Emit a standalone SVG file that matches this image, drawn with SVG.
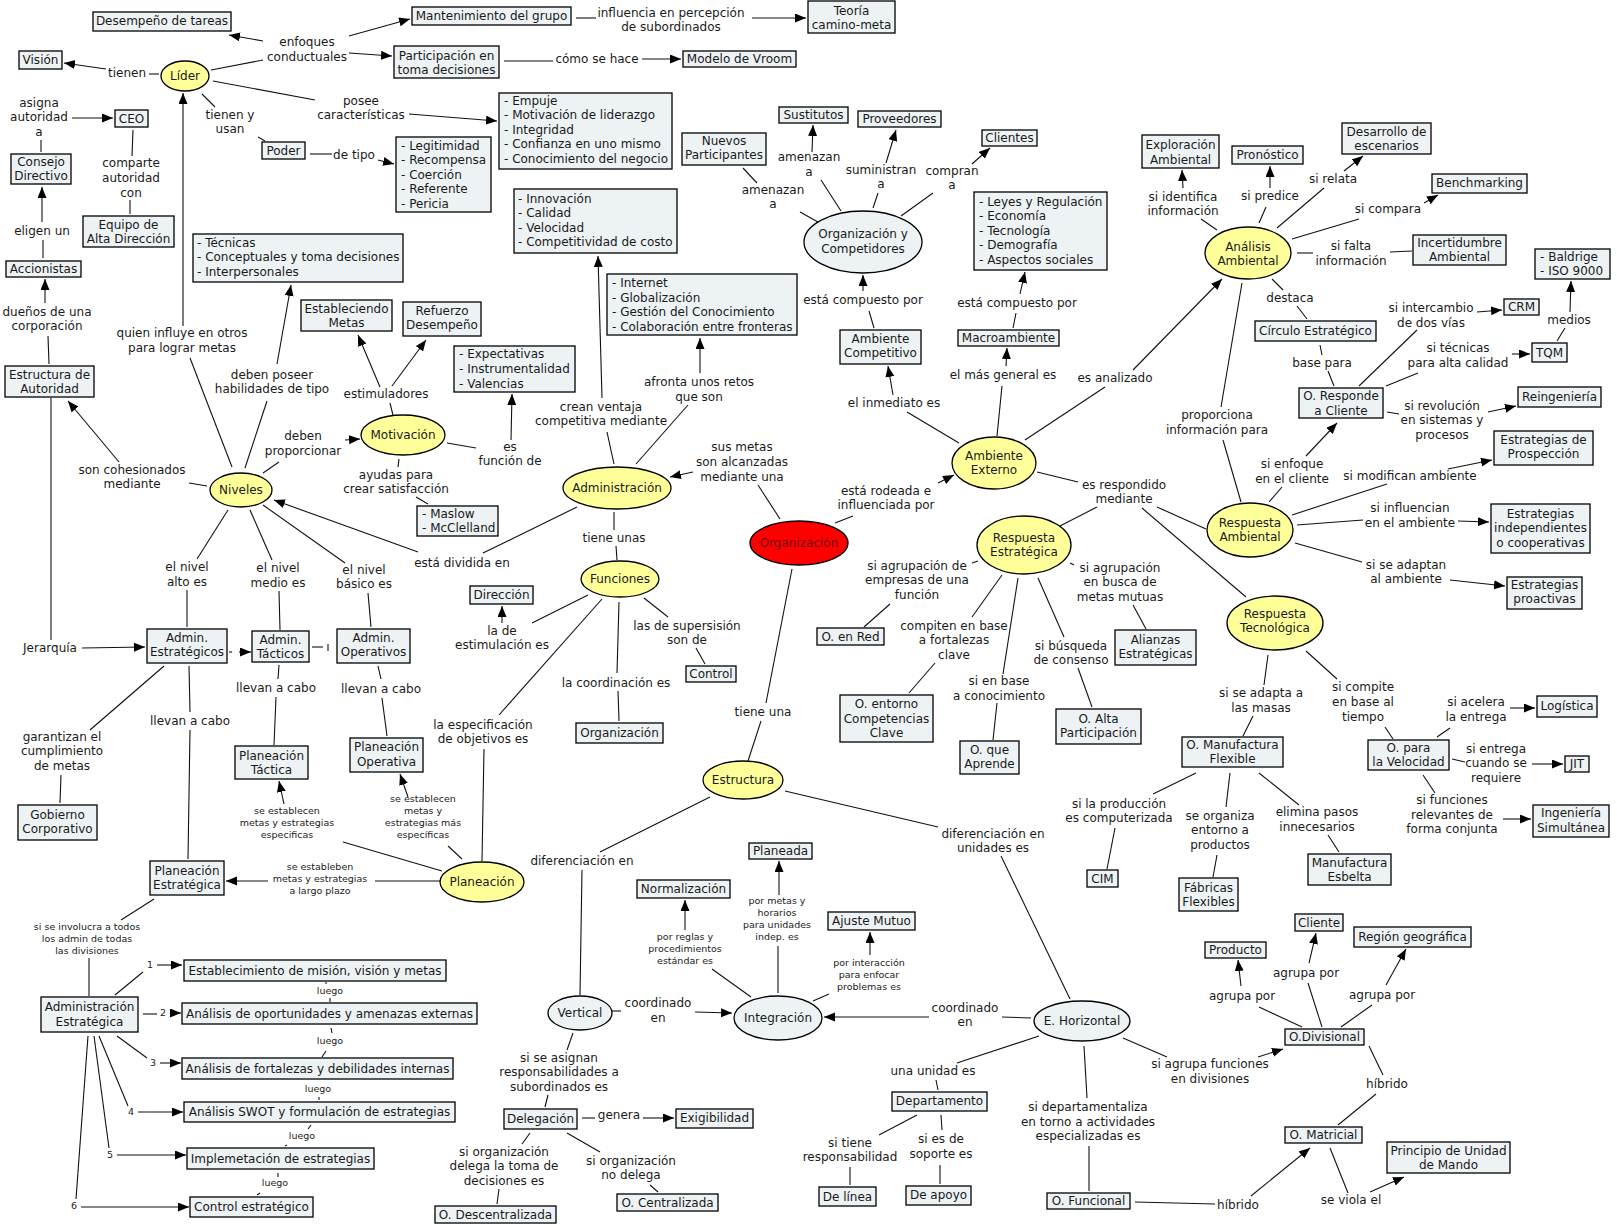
<svg xmlns="http://www.w3.org/2000/svg" width="1617" height="1230" viewBox="0 0 1617 1230">
<style>
.b{fill:#edf2f5;stroke:#000;stroke-width:1.3}
.y{fill:#ffff99;stroke:#000;stroke-width:1.3}
.r{fill:#ff0000;stroke:#000;stroke-width:1.3}
text{font-family:"DejaVu Sans",Verdana,sans-serif;font-size:12px;fill:#1a1a1a;text-anchor:middle}
.l{text-anchor:start}
.s{font-size:9.5px}
#connectors line,#connectors path{stroke:#111;stroke-width:1.1;fill:none}
#connectors .a{marker-end:url(#ah)}
</style>
<defs>
<marker id="ah" markerUnits="userSpaceOnUse" markerWidth="12" markerHeight="10" refX="11" refY="4.5" orient="auto"><path d="M0,0 L11,4.5 L0,9 z" fill="#000"/></marker>
</defs>
<rect width="1617" height="1230" fill="#fff"/>
<g id="connectors">
<line x1="211" y1="70" x2="263" y2="60"/>
<line class="a" x1="263" y1="41" x2="229" y2="35"/>
<line class="a" x1="349" y1="36" x2="410" y2="19"/>
<line class="a" x1="349" y1="53" x2="392" y2="56"/>
<line x1="576" y1="18" x2="596" y2="18"/>
<line class="a" x1="752" y1="18" x2="806" y2="18"/>
<line x1="504" y1="61" x2="553" y2="61"/>
<line class="a" x1="642" y1="59" x2="681" y2="59"/>
<line x1="149" y1="74" x2="159" y2="74"/>
<line class="a" x1="106" y1="69" x2="64" y2="63"/>
<line x1="213" y1="81" x2="315" y2="100"/>
<line class="a" x1="409" y1="114" x2="497" y2="121"/>
<line x1="202" y1="94" x2="215" y2="107"/>
<line x1="258" y1="137" x2="265" y2="141"/>
<line x1="310" y1="154" x2="332" y2="154"/>
<line class="a" x1="378" y1="160" x2="394" y2="164"/>
<line class="a" x1="72" y1="118" x2="113" y2="118"/>
<line x1="41" y1="152" x2="41" y2="140"/>
<line x1="130" y1="214" x2="130" y2="200"/>
<line x1="132" y1="156" x2="133" y2="130"/>
<line x1="43" y1="258" x2="43" y2="240"/>
<line class="a" x1="42" y1="222" x2="42" y2="187"/>
<line x1="49" y1="364" x2="48" y2="336"/>
<line class="a" x1="45" y1="303" x2="45" y2="279"/>
<line x1="232" y1="467" x2="190" y2="358"/>
<line class="a" x1="183" y1="326" x2="183" y2="93"/>
<line x1="245" y1="468" x2="267" y2="401"/>
<line class="a" x1="277" y1="364" x2="291" y2="285"/>
<line x1="393" y1="415" x2="390" y2="403"/>
<line class="a" x1="380" y1="387" x2="358" y2="335"/>
<line class="a" x1="392" y1="386" x2="426" y2="340"/>
<line x1="263" y1="473" x2="279" y2="462"/>
<line class="a" x1="345" y1="440" x2="360" y2="439"/>
<line x1="207" y1="486" x2="189" y2="483"/>
<line class="a" x1="119" y1="462" x2="68" y2="401"/>
<line x1="447" y1="443" x2="476" y2="448"/>
<line class="a" x1="511" y1="440" x2="512" y2="394"/>
<line x1="399" y1="459" x2="398" y2="467"/>
<line x1="416" y1="497" x2="428" y2="504"/>
<line x1="577" y1="507" x2="483" y2="553"/>
<line class="a" x1="418" y1="552" x2="274" y2="500"/>
<line x1="614" y1="464" x2="607" y2="432"/>
<line class="a" x1="602" y1="398" x2="598" y2="256"/>
<line x1="636" y1="464" x2="688" y2="405"/>
<line class="a" x1="700" y1="373" x2="700" y2="338"/>
<line x1="780" y1="519" x2="758" y2="485"/>
<line class="a" x1="693" y1="472" x2="670" y2="477"/>
<line x1="614" y1="512" x2="614" y2="530"/>
<line x1="616" y1="546" x2="617" y2="560"/>
<line x1="588" y1="595" x2="532" y2="623"/>
<line class="a" x1="502" y1="623" x2="502" y2="606"/>
<line x1="644" y1="598" x2="668" y2="617"/>
<line x1="696" y1="648" x2="705" y2="664"/>
<line x1="619" y1="602" x2="617" y2="673"/>
<line x1="618" y1="691" x2="619" y2="721"/>
<line x1="602" y1="599" x2="499" y2="715"/>
<line x1="484" y1="749" x2="482" y2="861"/>
<line x1="792" y1="569" x2="766" y2="703"/>
<line x1="761" y1="721" x2="748" y2="761"/>
<line x1="835" y1="523" x2="853" y2="516"/>
<line class="a" x1="938" y1="483" x2="954" y2="475"/>
<line x1="959" y1="443" x2="907" y2="412"/>
<line class="a" x1="893" y1="395" x2="888" y2="366"/>
<line x1="874" y1="328" x2="869" y2="311"/>
<line class="a" x1="863" y1="291" x2="863" y2="275"/>
<line x1="997" y1="436" x2="1002" y2="386"/>
<line class="a" x1="1006" y1="366" x2="1007" y2="348"/>
<line x1="1013" y1="328" x2="1016" y2="313"/>
<line class="a" x1="1020" y1="294" x2="1025" y2="272"/>
<line x1="1025" y1="440" x2="1105" y2="387"/>
<line class="a" x1="1133" y1="370" x2="1222" y2="279"/>
<line x1="818" y1="222" x2="800" y2="212"/>
<line x1="757" y1="183" x2="743" y2="168"/>
<line x1="841" y1="211" x2="821" y2="180"/>
<line class="a" x1="812" y1="152" x2="813" y2="125"/>
<line x1="873" y1="208" x2="878" y2="193"/>
<line class="a" x1="886" y1="163" x2="896" y2="130"/>
<line x1="901" y1="216" x2="933" y2="193"/>
<line class="a" x1="972" y1="164" x2="990" y2="148"/>
<line x1="1217" y1="230" x2="1201" y2="219"/>
<line class="a" x1="1183" y1="188" x2="1182" y2="170"/>
<line x1="1259" y1="223" x2="1266" y2="207"/>
<line class="a" x1="1270" y1="188" x2="1270" y2="166"/>
<line x1="1277" y1="228" x2="1324" y2="188"/>
<line class="a" x1="1344" y1="171" x2="1363" y2="156"/>
<line x1="1292" y1="239" x2="1359" y2="219"/>
<line class="a" x1="1424" y1="203" x2="1438" y2="195"/>
<line x1="1297" y1="253" x2="1313" y2="253"/>
<line x1="1390" y1="252" x2="1412" y2="251"/>
<line x1="1272" y1="279" x2="1283" y2="290"/>
<line x1="1297" y1="306" x2="1307" y2="319"/>
<line x1="1320" y1="345" x2="1322" y2="355"/>
<line x1="1328" y1="371" x2="1334" y2="386"/>
<line x1="1359" y1="386" x2="1417" y2="330"/>
<line class="a" x1="1477" y1="312" x2="1502" y2="310"/>
<line x1="1386" y1="386" x2="1418" y2="373"/>
<line class="a" x1="1512" y1="354" x2="1530" y2="354"/>
<line x1="1557" y1="341" x2="1565" y2="328"/>
<line class="a" x1="1570" y1="312" x2="1571" y2="281"/>
<line x1="1387" y1="412" x2="1399" y2="414"/>
<line class="a" x1="1488" y1="412" x2="1516" y2="406"/>
<line x1="1242" y1="283" x2="1221" y2="407"/>
<line x1="1223" y1="440" x2="1241" y2="502"/>
<line x1="1037" y1="472" x2="1078" y2="482"/>
<line x1="1097" y1="507" x2="1060" y2="526"/>
<line x1="1157" y1="507" x2="1206" y2="529"/>
<line x1="1142" y1="508" x2="1246" y2="597"/>
<line x1="978" y1="561" x2="972" y2="563"/>
<line x1="890" y1="604" x2="864" y2="627"/>
<line x1="1070" y1="563" x2="1074" y2="565"/>
<line x1="1133" y1="605" x2="1146" y2="629"/>
<line x1="1002" y1="575" x2="972" y2="617"/>
<line x1="935" y1="663" x2="909" y2="693"/>
<line x1="1018" y1="578" x2="1003" y2="674"/>
<line x1="997" y1="703" x2="993" y2="740"/>
<line x1="1038" y1="578" x2="1064" y2="637"/>
<line x1="1078" y1="668" x2="1092" y2="707"/>
<line x1="1269" y1="502" x2="1282" y2="487"/>
<line class="a" x1="1306" y1="456" x2="1337" y2="423"/>
<line x1="1292" y1="515" x2="1387" y2="484"/>
<line class="a" x1="1448" y1="469" x2="1492" y2="460"/>
<line x1="1297" y1="525" x2="1363" y2="520"/>
<line class="a" x1="1458" y1="521" x2="1489" y2="522"/>
<line x1="1295" y1="543" x2="1362" y2="562"/>
<line class="a" x1="1450" y1="580" x2="1505" y2="586"/>
<line x1="1268" y1="655" x2="1264" y2="685"/>
<line x1="1253" y1="716" x2="1243" y2="736"/>
<line x1="1306" y1="651" x2="1337" y2="679"/>
<line x1="1385" y1="727" x2="1393" y2="739"/>
<line x1="1437" y1="737" x2="1450" y2="728"/>
<line class="a" x1="1510" y1="708" x2="1535" y2="708"/>
<line x1="1452" y1="759" x2="1465" y2="762"/>
<line class="a" x1="1532" y1="764" x2="1563" y2="764"/>
<line x1="1423" y1="775" x2="1435" y2="793"/>
<line class="a" x1="1503" y1="819" x2="1531" y2="819"/>
<line x1="1196" y1="773" x2="1153" y2="794"/>
<line x1="1115" y1="828" x2="1107" y2="869"/>
<line x1="1230" y1="773" x2="1226" y2="807"/>
<line x1="1217" y1="855" x2="1213" y2="877"/>
<line x1="1259" y1="773" x2="1299" y2="805"/>
<line x1="1328" y1="835" x2="1339" y2="852"/>
<line x1="785" y1="791" x2="938" y2="827"/>
<line x1="1001" y1="856" x2="1070" y2="999"/>
<line x1="710" y1="797" x2="600" y2="852"/>
<line x1="582" y1="870" x2="580" y2="995"/>
<line x1="612" y1="1011" x2="621" y2="1011"/>
<line class="a" x1="695" y1="1012" x2="732" y2="1013"/>
<line x1="1031" y1="1018" x2="1002" y2="1017"/>
<line class="a" x1="929" y1="1017" x2="824" y2="1017"/>
<line x1="751" y1="997" x2="712" y2="969"/>
<line class="a" x1="685" y1="930" x2="685" y2="900"/>
<line x1="778" y1="993" x2="778" y2="946"/>
<line class="a" x1="779" y1="895" x2="779" y2="861"/>
<line x1="813" y1="1001" x2="829" y2="994"/>
<line class="a" x1="870" y1="955" x2="870" y2="932"/>
<line x1="573" y1="1033" x2="567" y2="1050"/>
<line x1="548" y1="1095" x2="545" y2="1107"/>
<line x1="582" y1="1118" x2="595" y2="1118"/>
<line class="a" x1="643" y1="1118" x2="674" y2="1118"/>
<line x1="530" y1="1133" x2="522" y2="1144"/>
<line x1="499" y1="1189" x2="497" y2="1204"/>
<line x1="567" y1="1133" x2="600" y2="1152"/>
<line x1="650" y1="1185" x2="658" y2="1192"/>
<line x1="1039" y1="1036" x2="957" y2="1063"/>
<line x1="936" y1="1080" x2="938" y2="1090"/>
<line x1="917" y1="1115" x2="879" y2="1135"/>
<line x1="850" y1="1167" x2="850" y2="1185"/>
<line x1="941" y1="1115" x2="942" y2="1130"/>
<line x1="940" y1="1165" x2="940" y2="1184"/>
<line x1="1084" y1="1046" x2="1087" y2="1098"/>
<line x1="1089" y1="1146" x2="1089" y2="1191"/>
<line x1="1135" y1="1202" x2="1215" y2="1204"/>
<line class="a" x1="1251" y1="1196" x2="1310" y2="1148"/>
<line x1="1330" y1="1148" x2="1348" y2="1193"/>
<line class="a" x1="1370" y1="1192" x2="1404" y2="1177"/>
<line x1="1123" y1="1038" x2="1167" y2="1057"/>
<line class="a" x1="1258" y1="1057" x2="1283" y2="1049"/>
<line x1="1369" y1="1046" x2="1383" y2="1075"/>
<line x1="1376" y1="1094" x2="1338" y2="1125"/>
<line x1="1302" y1="1027" x2="1259" y2="1007"/>
<line class="a" x1="1241" y1="986" x2="1238" y2="960"/>
<line x1="1322" y1="1027" x2="1308" y2="983"/>
<line class="a" x1="1309" y1="963" x2="1316" y2="933"/>
<line x1="1341" y1="1027" x2="1372" y2="1005"/>
<line class="a" x1="1386" y1="985" x2="1406" y2="949"/>
<line x1="228" y1="510" x2="197" y2="559"/>
<line x1="187" y1="590" x2="187" y2="627"/>
<line x1="250" y1="510" x2="272" y2="560"/>
<line x1="279" y1="591" x2="280" y2="630"/>
<line x1="263" y1="505" x2="345" y2="563"/>
<line x1="368" y1="593" x2="371" y2="627"/>
<line class="a" x1="82" y1="648" x2="145" y2="647"/>
<line x1="51" y1="398" x2="51" y2="640"/>
<line x1="229" y1="652" x2="232" y2="652"/>
<line class="a" x1="239" y1="652" x2="251" y2="652"/>
<line x1="312" y1="647" x2="323" y2="647"/>
<line x1="328" y1="644" x2="328" y2="651"/>
<line x1="164" y1="666" x2="90" y2="730"/>
<line x1="61" y1="775" x2="60" y2="803"/>
<line x1="189" y1="666" x2="190" y2="712"/>
<line x1="190" y1="730" x2="188" y2="859"/>
<line x1="279" y1="665" x2="278" y2="679"/>
<line x1="276" y1="697" x2="274" y2="745"/>
<line x1="378" y1="666" x2="381" y2="679"/>
<line x1="382" y1="698" x2="387" y2="736"/>
<line x1="442" y1="871" x2="343" y2="842"/>
<line class="a" x1="284" y1="804" x2="279" y2="781"/>
<line x1="462" y1="859" x2="448" y2="846"/>
<line class="a" x1="408" y1="797" x2="400" y2="774"/>
<line x1="440" y1="881" x2="375" y2="881"/>
<line class="a" x1="268" y1="881" x2="226" y2="881"/>
<line x1="154" y1="899" x2="121" y2="920"/>
<line x1="89" y1="958" x2="89" y2="996"/>
<line x1="115" y1="995" x2="143" y2="972"/>
<line class="a" x1="157" y1="965" x2="182" y2="965"/>
<line x1="143" y1="1014" x2="157" y2="1014"/>
<line class="a" x1="170" y1="1013" x2="181" y2="1013"/>
<line x1="117" y1="1036" x2="147" y2="1058"/>
<line class="a" x1="160" y1="1063" x2="181" y2="1063"/>
<line x1="99" y1="1036" x2="128" y2="1106"/>
<line class="a" x1="138" y1="1112" x2="183" y2="1112"/>
<line x1="94" y1="1036" x2="109" y2="1148"/>
<line class="a" x1="117" y1="1155" x2="186" y2="1155"/>
<line x1="88" y1="1036" x2="76" y2="1199"/>
<line class="a" x1="81" y1="1207" x2="189" y2="1207"/>
<line x1="326" y1="982" x2="326" y2="984"/>
<line x1="330" y1="998" x2="330" y2="1002"/>
<line x1="331" y1="1028" x2="332" y2="1033"/>
<line x1="322" y1="1057" x2="326" y2="1051"/>
<line x1="319" y1="1097" x2="319" y2="1100"/>
<line x1="311" y1="1125" x2="308" y2="1129"/>
<line x1="285" y1="1146" x2="287" y2="1145"/>
<line x1="278" y1="1173" x2="278" y2="1177"/>
<line x1="257" y1="1195" x2="260" y2="1193"/>
</g>
<g id="n_desempeno"><rect class="b" x="93" y="12" width="138" height="19"/><text x="162" y="25">Desempeño de tareas</text></g>
<g id="n_vision"><rect class="b" x="19" y="51" width="43" height="18"/><text x="40.5" y="64">Visión</text></g>
<g id="n_mant"><rect class="b" x="412" y="7" width="159" height="18"/><text x="491.5" y="20">Mantenimiento del grupo</text></g>
<g id="n_teoria"><rect class="b" x="808" y="1" width="87" height="32"/><text><tspan x="851.5" y="15">Teoría</tspan><tspan x="851.5" y="29">camino-meta</tspan></text></g>
<g id="n_particip"><rect class="b" x="394" y="46" width="105" height="32"/><text><tspan x="446.5" y="60">Participación en</tspan><tspan x="446.5" y="74">toma decisiones</tspan></text></g>
<g id="n_vroom"><rect class="b" x="683" y="51" width="113" height="16"/><text x="739.5" y="63">Modelo de Vroom</text></g>
<g id="n_caract"><rect class="b" x="499" y="93" width="173" height="76"/><text class="l"><tspan x="504" y="105">- Empuje</tspan><tspan x="504" y="119">- Motivación de liderazgo</tspan><tspan x="504" y="134">- Integridad</tspan><tspan x="504" y="148">- Confianza en uno mismo</tspan><tspan x="504" y="163">- Conocimiento del negocio</tspan></text></g>
<g id="n_ceo"><rect class="b" x="115" y="110" width="33" height="17"/><text x="131.5" y="123">CEO</text></g>
<g id="n_poder"><rect class="b" x="262" y="142" width="43" height="17"/><text x="283.5" y="155">Poder</text></g>
<g id="n_legit"><rect class="b" x="396" y="137" width="95" height="75"/><text class="l"><tspan x="401" y="150">- Legitimidad</tspan><tspan x="401" y="164">- Recompensa</tspan><tspan x="401" y="179">- Coerción</tspan><tspan x="401" y="193">- Referente</tspan><tspan x="401" y="208">- Pericia</tspan></text></g>
<g id="n_consejo"><rect class="b" x="11" y="154" width="60" height="30"/><text><tspan x="41" y="166">Consejo</tspan><tspan x="41" y="180">Directivo</tspan></text></g>
<g id="n_equipo"><rect class="b" x="83" y="216" width="91" height="31"/><text><tspan x="128.5" y="229">Equipo de</tspan><tspan x="128.5" y="243">Alta Dirección</tspan></text></g>
<g id="n_accion"><rect class="b" x="6" y="261" width="75" height="16"/><text x="43.5" y="273">Accionistas</text></g>
<g id="n_estructAut"><rect class="b" x="5" y="366" width="89" height="31"/><text><tspan x="49.5" y="379">Estructura de</tspan><tspan x="49.5" y="393">Autoridad</tspan></text></g>
<g id="n_tecnicas"><rect class="b" x="193" y="234" width="210" height="48"/><text class="l"><tspan x="197" y="247">- Técnicas</tspan><tspan x="197" y="261">- Conceptuales y toma decisiones</tspan><tspan x="197" y="276">- Interpersonales</tspan></text></g>
<g id="n_estabMetas"><rect class="b" x="301" y="300" width="91" height="31"/><text><tspan x="346.5" y="313">Estableciendo</tspan><tspan x="346.5" y="327">Metas</tspan></text></g>
<g id="n_refuerzo"><rect class="b" x="403" y="302" width="78" height="34"/><text><tspan x="442" y="315">Refuerzo</tspan><tspan x="442" y="329">Desempeño</tspan></text></g>
<g id="n_expect"><rect class="b" x="454" y="346" width="121" height="46"/><text class="l"><tspan x="459" y="358">- Expectativas</tspan><tspan x="459" y="373">- Instrumentalidad</tspan><tspan x="459" y="388">- Valencias</tspan></text></g>
<g id="n_innov"><rect class="b" x="514" y="189" width="163" height="64"/><text class="l"><tspan x="518" y="203">- Innovación</tspan><tspan x="518" y="217">- Calidad</tspan><tspan x="518" y="232">- Velocidad</tspan><tspan x="518" y="246">- Competitividad de costo</tspan></text></g>
<g id="n_internet"><rect class="b" x="607" y="274" width="190" height="61"/><text class="l"><tspan x="612" y="287">- Internet</tspan><tspan x="612" y="302">- Globalización</tspan><tspan x="612" y="316">- Gestión del Conocimiento</tspan><tspan x="612" y="331">- Colaboración entre fronteras</tspan></text></g>
<g id="n_nuevos"><rect class="b" x="682" y="133" width="84" height="32"/><text><tspan x="724" y="145">Nuevos</tspan><tspan x="724" y="159">Participantes</tspan></text></g>
<g id="n_sustitutos"><rect class="b" x="779" y="107" width="69" height="16"/><text x="813.5" y="119">Sustitutos</text></g>
<g id="n_proveedores"><rect class="b" x="858" y="111" width="83" height="16"/><text x="899.5" y="123">Proveedores</text></g>
<g id="n_clientes"><rect class="b" x="982" y="130" width="55" height="16"/><text x="1009.5" y="142">Clientes</text></g>
<g id="n_ambComp"><rect class="b" x="840" y="330" width="81" height="34"/><text><tspan x="880.5" y="343">Ambiente</tspan><tspan x="880.5" y="357">Competitivo</tspan></text></g>
<g id="n_leyes"><rect class="b" x="974" y="192" width="133" height="78"/><text class="l"><tspan x="979" y="206">- Leyes y Regulación</tspan><tspan x="979" y="220">- Economía</tspan><tspan x="979" y="235">- Tecnología</tspan><tspan x="979" y="249">- Demografía</tspan><tspan x="979" y="264">- Aspectos sociales</tspan></text></g>
<g id="n_macro"><rect class="b" x="958" y="330" width="101" height="16"/><text x="1008.5" y="342">Macroambiente</text></g>
<g id="n_explor"><rect class="b" x="1142" y="135" width="77" height="33"/><text><tspan x="1180.5" y="149">Exploración</tspan><tspan x="1180.5" y="164">Ambiental</tspan></text></g>
<g id="n_pronost"><rect class="b" x="1232" y="146" width="71" height="18"/><text x="1267.5" y="159">Pronóstico</text></g>
<g id="n_desarrollo"><rect class="b" x="1342" y="123" width="89" height="31"/><text><tspan x="1386.5" y="136">Desarrollo de</tspan><tspan x="1386.5" y="150">escenarios</tspan></text></g>
<g id="n_bench"><rect class="b" x="1432" y="174" width="95" height="19"/><text x="1479.5" y="187">Benchmarking</text></g>
<g id="n_incert"><rect class="b" x="1413" y="235" width="93" height="30"/><text><tspan x="1459.5" y="247">Incertidumbre</tspan><tspan x="1459.5" y="261">Ambiental</tspan></text></g>
<g id="n_baldrige"><rect class="b" x="1535" y="249" width="75" height="30"/><text class="l"><tspan x="1540" y="261">- Baldrige</tspan><tspan x="1540" y="275">- ISO 9000</tspan></text></g>
<g id="n_circulo"><rect class="b" x="1255" y="321" width="121" height="20"/><text x="1315.5" y="335">Círculo Estratégico</text></g>
<g id="n_crm"><rect class="b" x="1504" y="299" width="35" height="16"/><text x="1521.5" y="311">CRM</text></g>
<g id="n_tqm"><rect class="b" x="1532" y="343" width="35" height="19"/><text x="1549.5" y="357">TQM</text></g>
<g id="n_responde"><rect class="b" x="1299" y="388" width="84" height="30"/><text><tspan x="1341" y="400">O. Responde</tspan><tspan x="1341" y="415">a Cliente</tspan></text></g>
<g id="n_reing"><rect class="b" x="1518" y="387" width="83" height="20"/><text x="1559.5" y="401">Reingeniería</text></g>
<g id="n_prospec"><rect class="b" x="1494" y="431" width="99" height="34"/><text><tspan x="1543.5" y="444">Estrategias de</tspan><tspan x="1543.5" y="458">Prospección</tspan></text></g>
<g id="n_indep"><rect class="b" x="1491" y="504" width="99" height="49"/><text><tspan x="1540.5" y="518">Estrategias</tspan><tspan x="1540.5" y="532">independientes</tspan><tspan x="1540.5" y="547">o cooperativas</tspan></text></g>
<g id="n_proact"><rect class="b" x="1507" y="577" width="75" height="32"/><text><tspan x="1544.5" y="589">Estrategias</tspan><tspan x="1544.5" y="603">proactivas</tspan></text></g>
<g id="n_logistica"><rect class="b" x="1537" y="696" width="60" height="21"/><text x="1567" y="710">Logística</text></g>
<g id="n_velocidad"><rect class="b" x="1368" y="740" width="81" height="30"/><text><tspan x="1408.5" y="752">O. para</tspan><tspan x="1408.5" y="766">la Velocidad</tspan></text></g>
<g id="n_jit"><rect class="b" x="1565" y="756" width="24" height="16"/><text x="1577" y="768">JIT</text></g>
<g id="n_manFlex"><rect class="b" x="1182" y="737" width="101" height="30"/><text><tspan x="1232.5" y="749">O. Manufactura</tspan><tspan x="1232.5" y="763">Flexible</tspan></text></g>
<g id="n_ingSim"><rect class="b" x="1533" y="805" width="76" height="32"/><text><tspan x="1571" y="817">Ingeniería</tspan><tspan x="1571" y="832">Simultánea</tspan></text></g>
<g id="n_manEsb"><rect class="b" x="1308" y="854" width="83" height="31"/><text><tspan x="1349.5" y="867">Manufactura</tspan><tspan x="1349.5" y="881">Esbelta</tspan></text></g>
<g id="n_fabricas"><rect class="b" x="1179" y="878" width="59" height="33"/><text><tspan x="1208.5" y="892">Fábricas</tspan><tspan x="1208.5" y="906">Flexibles</tspan></text></g>
<g id="n_cim"><rect class="b" x="1087" y="870" width="31" height="17"/><text x="1102.5" y="883">CIM</text></g>
<g id="n_producto"><rect class="b" x="1205" y="942" width="61" height="16"/><text x="1235.5" y="954">Producto</text></g>
<g id="n_cliente"><rect class="b" x="1295" y="914" width="48" height="17"/><text x="1319" y="927">Cliente</text></g>
<g id="n_region"><rect class="b" x="1354" y="927" width="117" height="20"/><text x="1412.5" y="941">Región geográfica</text></g>
<g id="n_divisional"><rect class="b" x="1285" y="1029" width="79" height="16"/><text x="1324.5" y="1041">O.Divisional</text></g>
<g id="n_matricial"><rect class="b" x="1285" y="1127" width="77" height="16"/><text x="1323.5" y="1139">O. Matricial</text></g>
<g id="n_principio"><rect class="b" x="1387" y="1142" width="123" height="31"/><text><tspan x="1448.5" y="1155">Principio de Unidad</tspan><tspan x="1448.5" y="1169">de Mando</tspan></text></g>
<g id="n_ajuste"><rect class="b" x="828" y="912" width="87" height="18"/><text x="871.5" y="925">Ajuste Mutuo</text></g>
<g id="n_departamento"><rect class="b" x="892" y="1092" width="95" height="19"/><text x="939.5" y="1105">Departamento</text></g>
<g id="n_delinea"><rect class="b" x="819" y="1187" width="57" height="19"/><text x="847.5" y="1201">De línea</text></g>
<g id="n_deapoyo"><rect class="b" x="906" y="1186" width="65" height="19"/><text x="938.5" y="1199">De apoyo</text></g>
<g id="n_funcional"><rect class="b" x="1047" y="1193" width="83" height="16"/><text x="1088.5" y="1205">O. Funcional</text></g>
<g id="n_planeada"><rect class="b" x="749" y="843" width="63" height="16"/><text x="780.5" y="855">Planeada</text></g>
<g id="n_normal"><rect class="b" x="637" y="880" width="93" height="18"/><text x="683.5" y="893">Normalización</text></g>
<g id="n_delegacion"><rect class="b" x="504" y="1109" width="73" height="20"/><text x="540.5" y="1123">Delegación</text></g>
<g id="n_exig"><rect class="b" x="676" y="1109" width="77" height="19"/><text x="714.5" y="1122">Exigibilidad</text></g>
<g id="n_descent"><rect class="b" x="435" y="1206" width="121" height="17"/><text x="495.5" y="1219">O. Descentralizada</text></g>
<g id="n_central"><rect class="b" x="617" y="1194" width="101" height="17"/><text x="667.5" y="1207">O. Centralizada</text></g>
<g id="n_gobierno"><rect class="b" x="18" y="805" width="79" height="35"/><text><tspan x="57.5" y="819">Gobierno</tspan><tspan x="57.5" y="833">Corporativo</tspan></text></g>
<g id="n_planEst"><rect class="b" x="150" y="861" width="74" height="34"/><text><tspan x="187" y="875">Planeación</tspan><tspan x="187" y="889">Estratégica</tspan></text></g>
<g id="n_adminEst"><rect class="b" x="41" y="997" width="97" height="35"/><text><tspan x="89.5" y="1011">Administración</tspan><tspan x="89.5" y="1026">Estratégica</tspan></text></g>
<g id="n_estab"><rect class="b" x="184" y="960" width="262" height="21"/><text x="315" y="975">Establecimiento de misión, visión y metas</text></g>
<g id="n_oport"><rect class="b" x="182" y="1003" width="295" height="21"/><text x="329.5" y="1018">Análisis de oportunidades y amenazas externas</text></g>
<g id="n_fortal"><rect class="b" x="182" y="1058" width="271" height="21"/><text x="317.5" y="1073">Análisis de fortalezas y debilidades internas</text></g>
<g id="n_swot"><rect class="b" x="184" y="1102" width="271" height="20"/><text x="319.5" y="1116">Análisis SWOT y formulación de estrategias</text></g>
<g id="n_implem"><rect class="b" x="187" y="1148" width="187" height="21"/><text x="280.5" y="1163">Implemetación de estrategias</text></g>
<g id="n_controlEst"><rect class="b" x="190" y="1197" width="123" height="20"/><text x="251.5" y="1211">Control estratégico</text></g>
<g id="n_adminEstr"><rect class="b" x="147" y="629" width="80" height="34"/><text><tspan x="187" y="642">Admin.</tspan><tspan x="187" y="656">Estratégicos</tspan></text></g>
<g id="n_adminTact"><rect class="b" x="252" y="631" width="57" height="31"/><text><tspan x="280.5" y="644">Admin.</tspan><tspan x="280.5" y="658">Tácticos</tspan></text></g>
<g id="n_adminOper"><rect class="b" x="337" y="629" width="73" height="34"/><text><tspan x="373.5" y="642">Admin.</tspan><tspan x="373.5" y="656">Operativos</tspan></text></g>
<g id="n_planTact"><rect class="b" x="235" y="746" width="73" height="33"/><text><tspan x="271.5" y="760">Planeación</tspan><tspan x="271.5" y="774">Táctica</tspan></text></g>
<g id="n_planOper"><rect class="b" x="350" y="738" width="73" height="34"/><text><tspan x="386.5" y="751">Planeación</tspan><tspan x="386.5" y="766">Operativa</tspan></text></g>
<g id="n_maslow"><rect class="b" x="417" y="506" width="81" height="30"/><text class="l"><tspan x="422" y="518">- Maslow</tspan><tspan x="422" y="532">- McClelland</tspan></text></g>
<g id="n_direccion"><rect class="b" x="470" y="586" width="63" height="18"/><text x="501.5" y="599">Dirección</text></g>
<g id="n_control"><rect class="b" x="686" y="666" width="50" height="16"/><text x="711" y="678">Control</text></g>
<g id="n_organizBox"><rect class="b" x="576" y="723" width="87" height="20"/><text x="619.5" y="737">Organización</text></g>
<g id="n_oenred"><rect class="b" x="817" y="628" width="67" height="17"/><text x="850.5" y="641">O. en Red</text></g>
<g id="n_alianzas"><rect class="b" x="1115" y="630" width="81" height="35"/><text><tspan x="1155.5" y="644">Alianzas</tspan><tspan x="1155.5" y="658">Estratégicas</tspan></text></g>
<g id="n_oentorno"><rect class="b" x="840" y="695" width="93" height="47"/><text><tspan x="886.5" y="708">O. entorno</tspan><tspan x="886.5" y="723">Competencias</tspan><tspan x="886.5" y="737">Clave</tspan></text></g>
<g id="n_oalta"><rect class="b" x="1056" y="709" width="85" height="35"/><text><tspan x="1098.5" y="723">O. Alta</tspan><tspan x="1098.5" y="737">Participación</tspan></text></g>
<g id="n_oaprende"><rect class="b" x="960" y="741" width="59" height="33"/><text><tspan x="989.5" y="754">O. que</tspan><tspan x="989.5" y="768">Aprende</tspan></text></g>
<g id="e_lider"><ellipse class="y" cx="185" cy="76" rx="24" ry="15"/><text x="185" y="80">Líder</text></g>
<g id="e_niveles"><ellipse class="y" cx="241" cy="490" rx="31" ry="17"/><text x="241" y="494">Niveles</text></g>
<g id="e_motivacion"><ellipse class="y" cx="403" cy="435" rx="42" ry="20"/><text x="403" y="439">Motivación</text></g>
<g id="e_administracion"><ellipse class="y" cx="617" cy="488" rx="54" ry="21"/><text x="617" y="492">Administración</text></g>
<g id="e_funciones"><ellipse class="y" cx="620" cy="579" rx="39" ry="18"/><text x="620" y="583">Funciones</text></g>
<g id="e_organizacion"><ellipse class="r" cx="799" cy="543" rx="49" ry="22"/><text x="799" y="547" style="fill:#700000">Organización</text></g>
<g id="e_estructura"><ellipse class="y" cx="743" cy="780" rx="40" ry="19"/><text x="743" y="784">Estructura</text></g>
<g id="e_planeacion"><ellipse class="y" cx="482" cy="882" rx="42" ry="20"/><text x="482" y="886">Planeación</text></g>
<g id="e_orgComp"><ellipse class="b" cx="863" cy="242" rx="59" ry="31"/><text><tspan x="863" y="238">Organización y</tspan><tspan x="863" y="253">Competidores</tspan></text></g>
<g id="e_ambExt"><ellipse class="y" cx="994" cy="463" rx="42" ry="26"/><text><tspan x="994" y="460">Ambiente</tspan><tspan x="994" y="474">Externo</tspan></text></g>
<g id="e_analisis"><ellipse class="y" cx="1248" cy="253" rx="43" ry="26"/><text><tspan x="1248" y="251">Análisis</tspan><tspan x="1248" y="265">Ambiental</tspan></text></g>
<g id="e_respEst"><ellipse class="y" cx="1024" cy="545" rx="47" ry="29"/><text><tspan x="1024" y="542">Respuesta</tspan><tspan x="1024" y="556">Estratégica</tspan></text></g>
<g id="e_respAmb"><ellipse class="y" cx="1250" cy="530" rx="43" ry="27"/><text><tspan x="1250" y="527">Respuesta</tspan><tspan x="1250" y="541">Ambiental</tspan></text></g>
<g id="e_respTec"><ellipse class="y" cx="1275" cy="623" rx="48" ry="27"/><text><tspan x="1275" y="618">Respuesta</tspan><tspan x="1275" y="632">Tecnológica</tspan></text></g>
<g id="e_vertical"><ellipse class="b" cx="580" cy="1013" rx="32" ry="17"/><text x="580" y="1017">Vertical</text></g>
<g id="e_integracion"><ellipse class="b" cx="778" cy="1018" rx="44" ry="22"/><text x="778" y="1022">Integración</text></g>
<g id="e_horizontal"><ellipse class="b" cx="1082" cy="1021" rx="48" ry="20"/><text x="1082" y="1025">E. Horizontal</text></g>
<g id="labels">
<text><tspan x="307" y="46">enfoques</tspan><tspan x="307" y="61">conductuales</tspan></text>
<text x="127" y="77">tienen</text>
<text><tspan x="230" y="119">tienen y</tspan><tspan x="230" y="133">usan</tspan></text>
<text x="354" y="159">de tipo</text>
<text><tspan x="361" y="105">posee</tspan><tspan x="361" y="119">características</tspan></text>
<text><tspan x="39" y="107">asigna</tspan><tspan x="39" y="121">autoridad</tspan><tspan x="39" y="136">a</tspan></text>
<text><tspan x="131" y="167">comparte</tspan><tspan x="131" y="182">autoridad</tspan><tspan x="131" y="197">con</tspan></text>
<text x="42" y="235">eligen un</text>
<text><tspan x="47" y="316">dueños de una</tspan><tspan x="47" y="330">corporación</tspan></text>
<text><tspan x="182" y="337">quien influye en otros</tspan><tspan x="182" y="352">para lograr metas</tspan></text>
<text><tspan x="272" y="379">deben poseer</tspan><tspan x="272" y="393">habilidades de tipo</tspan></text>
<text x="386" y="398">estimuladores</text>
<text><tspan x="671" y="17">influencia en percepción</tspan><tspan x="671" y="31">de subordinados</tspan></text>
<text x="597" y="63">cómo se hace</text>
<text><tspan x="699" y="386">afronta unos retos</tspan><tspan x="699" y="401">que son</tspan></text>
<text><tspan x="601" y="411">crean ventaja</tspan><tspan x="601" y="425">competitiva mediante</tspan></text>
<text><tspan x="773" y="194">amenazan</tspan><tspan x="773" y="208">a</tspan></text>
<text><tspan x="809" y="161">amenazan</tspan><tspan x="809" y="176">a</tspan></text>
<text><tspan x="881" y="174">suministran</tspan><tspan x="881" y="188">a</tspan></text>
<text><tspan x="952" y="175">compran</tspan><tspan x="952" y="189">a</tspan></text>
<text x="863" y="304">está compuesto por</text>
<text x="894" y="407">el inmediato es</text>
<text x="1017" y="307">está compuesto por</text>
<text x="1003" y="379">el más general es</text>
<text x="1115" y="382">es analizado</text>
<text><tspan x="1183" y="201">si identifica</tspan><tspan x="1183" y="215">información</tspan></text>
<text x="1270" y="200">si predice</text>
<text x="1333" y="183">si relata</text>
<text x="1388" y="213">si compara</text>
<text><tspan x="1351" y="250">si falta</tspan><tspan x="1351" y="265">información</tspan></text>
<text x="1290" y="302">destaca</text>
<text><tspan x="1431" y="312">si intercambio</tspan><tspan x="1431" y="327">de dos vías</tspan></text>
<text x="1569" y="324">medios</text>
<text><tspan x="1458" y="352">si técnicas</tspan><tspan x="1458" y="367">para alta calidad</tspan></text>
<text x="1322" y="367">base para</text>
<text><tspan x="1442" y="410">si revolución</tspan><tspan x="1442" y="424">en sistemas y</tspan><tspan x="1442" y="439">procesos</tspan></text>
<text><tspan x="1217" y="419">proporciona</tspan><tspan x="1217" y="434">información para</tspan></text>
<text><tspan x="1292" y="468">si enfoque</tspan><tspan x="1292" y="483">en el cliente</tspan></text>
<text x="1410" y="480">si modifican ambiente</text>
<text><tspan x="1410" y="512">si influencian</tspan><tspan x="1410" y="527">en el ambiente</tspan></text>
<text><tspan x="1406" y="569">si se adaptan</tspan><tspan x="1406" y="583">al ambiente</tspan></text>
<text><tspan x="1261" y="697">si se adapta a</tspan><tspan x="1261" y="712">las masas</tspan></text>
<text><tspan x="1363" y="691">si compite</tspan><tspan x="1363" y="706">en base al</tspan><tspan x="1363" y="721">tiempo</tspan></text>
<text><tspan x="1476" y="706">si acelera</tspan><tspan x="1476" y="721">la entrega</tspan></text>
<text><tspan x="1496" y="753">si entrega</tspan><tspan x="1496" y="767">cuando se</tspan><tspan x="1496" y="782">requiere</tspan></text>
<text><tspan x="1452" y="804">si funciones</tspan><tspan x="1452" y="819">relevantes de</tspan><tspan x="1452" y="833">forma conjunta</tspan></text>
<text><tspan x="1119" y="808">si la producción</tspan><tspan x="1119" y="822">es computerizada</tspan></text>
<text><tspan x="1220" y="820">se organiza</tspan><tspan x="1220" y="834">entorno a</tspan><tspan x="1220" y="849">productos</tspan></text>
<text><tspan x="1317" y="816">elimina pasos</tspan><tspan x="1317" y="831">innecesarios</tspan></text>
<text x="1242" y="1000">agrupa por</text>
<text x="1306" y="977">agrupa por</text>
<text x="1382" y="999">agrupa por</text>
<text><tspan x="1210" y="1068">si agrupa funciones</tspan><tspan x="1210" y="1083">en divisiones</tspan></text>
<text x="1387" y="1088">híbrido</text>
<text x="1351" y="1204">se viola el</text>
<text x="1238" y="1209">híbrido</text>
<text><tspan x="993" y="838">diferenciación en</tspan><tspan x="993" y="852">unidades es</tspan></text>
<text class="s"><tspan x="869" y="966">por interacción</tspan><tspan x="869" y="978">para enfocar</tspan><tspan x="869" y="990">problemas es</tspan></text>
<text><tspan x="965" y="1012">coordinado</tspan><tspan x="965" y="1026">en</tspan></text>
<text x="933" y="1075">una unidad es</text>
<text><tspan x="850" y="1147">si tiene</tspan><tspan x="850" y="1161">responsabilidad</tspan></text>
<text><tspan x="941" y="1143">si es de</tspan><tspan x="941" y="1158">soporte es</tspan></text>
<text><tspan x="1088" y="1111">si departamentaliza</tspan><tspan x="1088" y="1126">en torno a actividades</tspan><tspan x="1088" y="1140">especializadas es</tspan></text>
<text x="582" y="865">diferenciación en</text>
<text class="s"><tspan x="777" y="904">por metas y</tspan><tspan x="777" y="916">horarios</tspan><tspan x="777" y="928">para unidades</tspan><tspan x="777" y="940">indep. es</tspan></text>
<text class="s"><tspan x="685" y="940">por reglas y</tspan><tspan x="685" y="952">procedimientos</tspan><tspan x="685" y="964">estándar es</tspan></text>
<text><tspan x="658" y="1007">coordinado</tspan><tspan x="658" y="1022">en</tspan></text>
<text><tspan x="559" y="1062">si se asignan</tspan><tspan x="559" y="1076">responsabilidades a</tspan><tspan x="559" y="1091">subordinados es</tspan></text>
<text x="619" y="1119">genera</text>
<text><tspan x="504" y="1156">si organización</tspan><tspan x="504" y="1170">delega la toma de</tspan><tspan x="504" y="1185">decisiones es</tspan></text>
<text><tspan x="631" y="1165">si organización</tspan><tspan x="631" y="1179">no delega</tspan></text>
<text class="s"><tspan x="287" y="814">se establecen</tspan><tspan x="287" y="826">metas y estrategias</tspan><tspan x="287" y="838">especificas</tspan></text>
<text class="s"><tspan x="423" y="802">se establecen</tspan><tspan x="423" y="814">metas y</tspan><tspan x="423" y="826">estrategias más</tspan><tspan x="423" y="838">específicas</tspan></text>
<text class="s"><tspan x="320" y="870">se estableben</tspan><tspan x="320" y="882">metas y estrategias</tspan><tspan x="320" y="894">a largo plazo</tspan></text>
<text class="s"><tspan x="87" y="930">si se involucra a todos</tspan><tspan x="87" y="942">los admin de todas</tspan><tspan x="87" y="954">las divisiones</tspan></text>
<text class="s" x="150" y="968">1</text>
<text class="s" x="163" y="1016">2</text>
<text class="s" x="153" y="1066">3</text>
<text class="s" x="131" y="1115">4</text>
<text class="s" x="110" y="1158">5</text>
<text class="s" x="74" y="1209">6</text>
<text class="s" x="330" y="994">luego</text>
<text class="s" x="330" y="1044">luego</text>
<text class="s" x="318" y="1092">luego</text>
<text class="s" x="302" y="1139">luego</text>
<text class="s" x="275" y="1186">luego</text>
<text><tspan x="132" y="474">son cohesionados</tspan><tspan x="132" y="488">mediante</tspan></text>
<text><tspan x="303" y="440">deben</tspan><tspan x="303" y="455">proporcionar</tspan></text>
<text><tspan x="396" y="479">ayudas para</tspan><tspan x="396" y="493">crear satisfacción</tspan></text>
<text><tspan x="510" y="451">es</tspan><tspan x="510" y="465">función de</tspan></text>
<text><tspan x="187" y="571">el nivel</tspan><tspan x="187" y="586">alto es</tspan></text>
<text><tspan x="278" y="572">el nivel</tspan><tspan x="278" y="587">medio es</tspan></text>
<text><tspan x="364" y="574">el nivel</tspan><tspan x="364" y="588">básico es</tspan></text>
<text x="50" y="652">Jerarquía</text>
<text x="276" y="692">llevan a cabo</text>
<text x="381" y="693">llevan a cabo</text>
<text x="190" y="725">llevan a cabo</text>
<text><tspan x="62" y="741">garantizan el</tspan><tspan x="62" y="755">cumplimiento</tspan><tspan x="62" y="770">de metas</tspan></text>
<text><tspan x="742" y="451">sus metas</tspan><tspan x="742" y="466">son alcanzadas</tspan><tspan x="742" y="481">mediante una</tspan></text>
<text x="614" y="542">tiene unas</text>
<text x="462" y="567">está dividida en</text>
<text><tspan x="502" y="635">la de</tspan><tspan x="502" y="649">estimulación es</tspan></text>
<text><tspan x="687" y="630">las de supersisión</tspan><tspan x="687" y="644">son de</tspan></text>
<text x="616" y="687">la coordinación es</text>
<text><tspan x="483" y="729">la especificación</tspan><tspan x="483" y="743">de objetivos es</tspan></text>
<text x="763" y="716">tiene una</text>
<text><tspan x="886" y="495">está rodeada e</tspan><tspan x="886" y="509">influenciada por</tspan></text>
<text><tspan x="1124" y="489">es respondido</tspan><tspan x="1124" y="503">mediante</tspan></text>
<text><tspan x="917" y="570">si agrupación de</tspan><tspan x="917" y="584">empresas de una</tspan><tspan x="917" y="599">función</tspan></text>
<text><tspan x="1120" y="572">si agrupación</tspan><tspan x="1120" y="586">en busca de</tspan><tspan x="1120" y="601">metas mutuas</tspan></text>
<text><tspan x="954" y="630">compiten en base</tspan><tspan x="954" y="644">a fortalezas</tspan><tspan x="954" y="659">clave</tspan></text>
<text><tspan x="1071" y="650">si búsqueda</tspan><tspan x="1071" y="664">de consenso</tspan></text>
<text><tspan x="999" y="685">si en base</tspan><tspan x="999" y="700">a conocimiento</tspan></text>
</g>
</svg>
